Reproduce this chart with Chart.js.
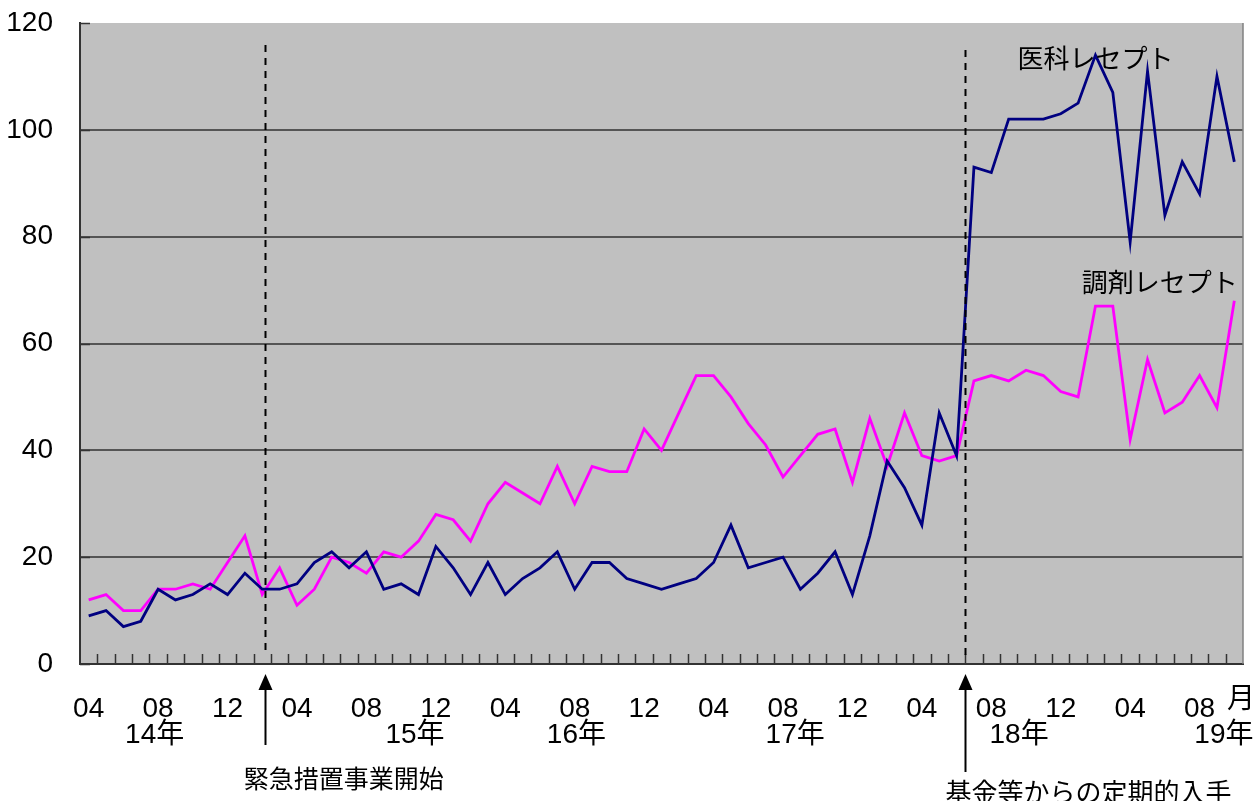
<!DOCTYPE html>
<html lang="ja">
<head>
<meta charset="utf-8">
<title>医科・調剤レセプト件数の推移</title>
<script src="https://cdn.jsdelivr.net/npm/chart.js@4.4.1/dist/chart.umd.min.js"></script>
<style>
  html, body { margin: 0; padding: 0; background: #ffffff; }
  #wrap { width: 1255px; height: 801px; }
</style>
</head>
<body>
<div id="wrap"><canvas id="c" width="1255" height="801"></canvas></div>
<script>
// Monthly periods, 2014-04 .. 2019-10
const months = [
  '2014-04','2014-05','2014-06','2014-07','2014-08','2014-09','2014-10','2014-11','2014-12',
  '2015-01','2015-02','2015-03','2015-04','2015-05','2015-06','2015-07','2015-08','2015-09','2015-10','2015-11','2015-12',
  '2016-01','2016-02','2016-03','2016-04','2016-05','2016-06','2016-07','2016-08','2016-09','2016-10','2016-11','2016-12',
  '2017-01','2017-02','2017-03','2017-04','2017-05','2017-06','2017-07','2017-08','2017-09','2017-10','2017-11','2017-12',
  '2018-01','2018-02','2018-03','2018-04','2018-05','2018-06','2018-07','2018-08','2018-09','2018-10','2018-11','2018-12',
  '2019-01','2019-02','2019-03','2019-04','2019-05','2019-06','2019-07','2019-08','2019-09','2019-10'
];

// 医科レセプト
const iryoValues = [
  9,10,7,8,14,12,13,15,13,17,14,14,15,19,21,18,21,
  14,15,13,22,18,13,19,13,16,18,21,14,19,19,16,15,
  14,15,16,19,26,18,19,20,14,17,21,13,24,38,33,26,47,39,
  93,92,102,102,102,103,105,114,107,79,111,84,94,88,110,94
];

// 調剤レセプト
const chozaiValues = [
  12,13,10,10,14,14,15,14,19,24,13,18,11,14,20,19,17,
  21,20,23,28,27,23,30,34,32,30,37,30,37,36,36,44,
  40,47,54,54,50,45,41,35,39,43,44,34,46,37,47,39,38,39,
  53,54,53,55,54,51,50,67,67,42,57,47,49,54,48,68
];

// Month numbers shown on the axis
const shownMonths = ['04', '08', '12'];

// Year captions under the month row, with the month they sit under
const yearLabels = ['14年', '15年', '16年', '17年', '18年', '19年'];
const yearAnchors = [3.8, 18.8, 28.1, 40.7, 53.6, 65.4];

// Event markers
const eventLabels = ['緊急措置事業開始', '基金等からの定期的入手'];
const eventAt = [10.15, 50.5];

const seriesNames = ['医科レセプト', '調剤レセプト'];

const LATIN = "'Liberation Sans Narrow', 'Liberation Sans', 'Noto Sans CJK JP', sans-serif";
const CJK = "'Noto Sans CJK JP', 'Liberation Sans', sans-serif";

const decor = {
  id: 'decor',
  beforeDraw(chart) {
    const { ctx, chartArea: a } = chart;
    ctx.save();
    ctx.fillStyle = '#c0c0c0';
    ctx.fillRect(a.left, a.top, a.right - a.left, a.bottom - a.top);
    ctx.restore();
  },
  afterDraw(chart) {
    const { ctx, chartArea: a, scales: { x, y } } = chart;
    ctx.save();

    // right frame edge
    ctx.strokeStyle = '#808080';
    ctx.lineWidth = 1.5;
    ctx.beginPath();
    ctx.moveTo(a.right, a.top);
    ctx.lineTo(a.right, a.bottom);
    ctx.stroke();

    // inward tick marks on both axes
    ctx.strokeStyle = '#333333';
    ctx.lineWidth = 1.5;
    ctx.beginPath();
    for (let i = 1; i < months.length; i++) {
      const px = Math.round(x.getPixelForValue(i - 0.5)) + 0.5;
      ctx.moveTo(px, a.bottom);
      ctx.lineTo(px, a.bottom - 10);
    }
    for (let v = 0; v <= 120; v += 20) {
      const py = Math.round(y.getPixelForValue(v)) + 0.5;
      ctx.moveTo(a.left, py);
      ctx.lineTo(a.left + 10, py);
    }
    ctx.stroke();

    // dashed event lines and arrows
    ctx.strokeStyle = '#000000';
    ctx.fillStyle = '#000000';
    eventAt.forEach((m, k) => {
      const px = Math.round(x.getPixelForValue(m)) + 0.5;
      ctx.lineWidth = 2;
      ctx.setLineDash([7, 6]);
      ctx.beginPath();
      ctx.moveTo(px, a.top + 22 + k * 5);
      ctx.lineTo(px, a.bottom - 14 + k * 5);
      ctx.stroke();
      ctx.setLineDash([]);

      const tip = a.bottom + 10;
      const end = k === 0 ? 745 : 772;
      ctx.lineWidth = 2;
      ctx.beginPath();
      ctx.moveTo(px, tip + 12);
      ctx.lineTo(px, end);
      ctx.stroke();
      ctx.beginPath();
      ctx.moveTo(px, tip);
      ctx.lineTo(px - 7, tip + 16);
      ctx.lineTo(px + 7, tip + 16);
      ctx.closePath();
      ctx.fill();
    });

    // event captions
    ctx.textAlign = 'center';
    ctx.textBaseline = 'middle';
    ctx.font = '25px ' + CJK;
    ctx.fillText(eventLabels[0], x.getPixelForValue(14.7), 778);
    ctx.font = '26px ' + CJK;
    ctx.fillText(eventLabels[1], x.getPixelForValue(57.6), 792);

    // year captions and the month unit
    ctx.font = '28px ' + LATIN;
    yearLabels.forEach((t, k) => {
      ctx.fillText(t, x.getPixelForValue(yearAnchors[k]), 735);
    });
    ctx.fillText('月', 1241, 700);

    // series names
    ctx.font = '26px ' + CJK;
    ctx.fillText(seriesNames[0], x.getPixelForValue(58), y.getPixelForValue(113.5));
    ctx.fillText(seriesNames[1], x.getPixelForValue(61.7), y.getPixelForValue(71.5));

    ctx.restore();
  }
};

new Chart(document.getElementById('c'), {
  type: 'line',
  data: {
    labels: months,
    datasets: [
      {
        label: seriesNames[0],
        data: iryoValues,
        borderColor: '#000080',
        backgroundColor: '#000080',
        borderWidth: 2.8,
        pointRadius: 0,
        tension: 0
      },
      {
        label: seriesNames[1],
        data: chozaiValues,
        borderColor: '#ff00ff',
        backgroundColor: '#ff00ff',
        borderWidth: 2.8,
        pointRadius: 0,
        tension: 0
      }
    ]
  },
  options: {
    responsive: false,
    animation: false,
    devicePixelRatio: 1,
    layout: { padding: { top: 23, right: 12, left: 0, bottom: 0 } },
    plugins: {
      legend: { display: false },
      tooltip: { enabled: false }
    },
    scales: {
      x: {
        type: 'category',
        offset: true,
        grid: { display: false, drawTicks: false },
        border: { display: true, color: '#333333', width: 2 },
        ticks: {
          autoSkip: false,
          maxRotation: 0,
          minRotation: 0,
          padding: 28,
          color: '#000000',
          font: { family: LATIN, size: 28 },
          callback(value) {
            const mm = months[value].slice(5);
            return shownMonths.includes(mm) ? mm : '';
          }
        },
        afterFit(scale) {
          scale.height = 137;
          scale.paddingLeft = 0;
          scale.paddingRight = 0;
        }
      },
      y: {
        min: 0,
        max: 120,
        grid: {
          drawTicks: false,
          color: (c) => (c.tick && (c.tick.value === 120 || c.tick.value === 0)) ? 'rgba(0,0,0,0)' : '#555555',
          lineWidth: 2
        },
        border: { display: true, color: '#333333', width: 2 },
        ticks: {
          stepSize: 20,
          padding: 27,
          color: '#000000',
          font: { family: LATIN, size: 28 }
        },
        afterFit(scale) {
          scale.width = 80;
          scale.paddingTop = 0;
          scale.paddingBottom = 0;
        }
      }
    }
  },
  plugins: [decor]
});
</script>
</body>
</html>
